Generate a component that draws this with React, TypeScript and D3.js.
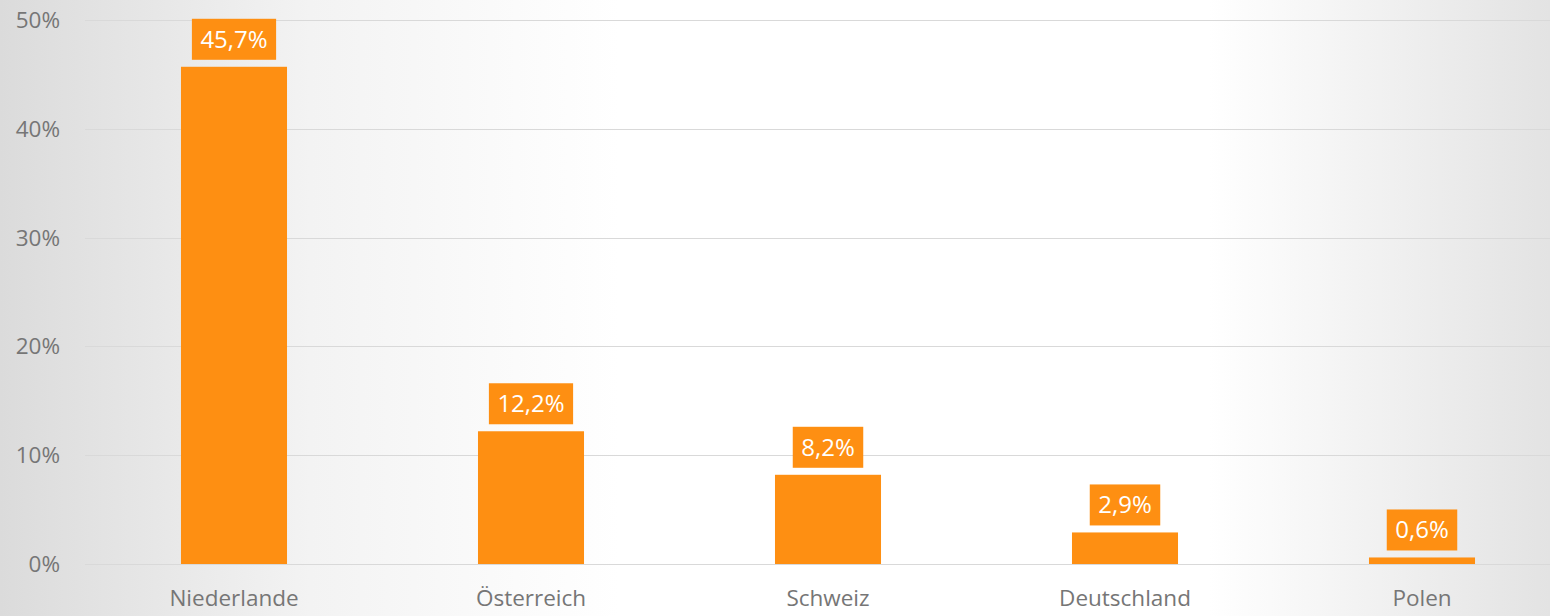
import React, { useEffect, useRef } from "react";
import * as d3 from "d3";

const categories = ["Niederlande", "Österreich", "Schweiz", "Deutschland", "Polen"];
const values = [45.7, 12.2, 8.2, 2.9, 0.6];
const yTicks = [0, 10, 20, 30, 40, 50];

const W = 1550;
const H = 616;

export default function App() {
  const ref = useRef<SVGSVGElement | null>(null);

  useEffect(() => {
    document.body.style.margin = "0";
    const svg = d3.select(ref.current);
    svg.selectAll("*").remove();

    const defs = svg.append("defs");
    const grad = defs
      .append("linearGradient")
      .attr("id", "bg")
      .attr("x1", "0%")
      .attr("x2", "100%")
      .attr("y1", "0%")
      .attr("y2", "0%");
    [
      [0, "#dbdbdb"],
      [0.2, "#f3f3f3"],
      [0.4, "#ffffff"],
      [0.78, "#ffffff"],
      [1, "#e3e3e3"],
    ].forEach(([o, c]) => grad.append("stop").attr("offset", o as number).attr("stop-color", c as string));

    svg.append("rect").attr("width", W).attr("height", H).attr("fill", "url(#bg)");

    const x = d3
      .scaleBand<string>()
      .domain(categories)
      .range([85.5, 1570.5])
      .paddingInner(0.643)
      .paddingOuter(0.3215);
    const y = d3.scaleLinear().domain([0, 50]).range([564, 20]);

    const font = "'Open Sans', 'Noto Sans', sans-serif";

    // gridlines
    svg
      .append("g")
      .selectAll("line")
      .data(yTicks)
      .join("line")
      .attr("x1", 85)
      .attr("x2", W)
      .attr("y1", (d) => Math.round(y(d)) + 0.5)
      .attr("y2", (d) => Math.round(y(d)) + 0.5)
      .attr("stroke", "#d9d9d9")
      .attr("stroke-width", 1);

    // y labels
    svg
      .append("g")
      .selectAll("text")
      .data(yTicks)
      .join("text")
      .attr("x", 60)
      .attr("y", (d) => y(d) + 8)
      .attr("text-anchor", "end")
      .attr("font-family", font)
      .attr("font-size", 22.5)
      .attr("fill", "#767676")
      .text((d) => `${d}%`);

    // bars
    svg
      .append("g")
      .selectAll("rect")
      .data(values)
      .join("rect")
      .attr("x", (_, i) => x(categories[i])!)
      .attr("width", x.bandwidth())
      .attr("y", (d) => y(d))
      .attr("height", (d) => y(0) - y(d))
      .attr("fill", "#fe8f12");

    // x labels
    svg
      .append("g")
      .selectAll("text")
      .data(categories)
      .join("text")
      .attr("x", (d) => x(d)! + x.bandwidth() / 2)
      .attr("y", 606)
      .attr("text-anchor", "middle")
      .attr("font-family", font)
      .attr("font-size", 22.5)
      .attr("fill", "#767676")
      .text((d) => d);

    // value labels
    const lg = svg.append("g");
    values.forEach((v, i) => {
      const cx = x(categories[i])! + x.bandwidth() / 2;
      const bottom = y(v) - 7;
      const g = lg.append("g");
      const rect = g.append("rect").attr("fill", "#fe8f12");
      const t = g
        .append("text")
        .attr("x", cx)
        .attr("y", bottom - 12)
        .attr("text-anchor", "middle")
        .attr("font-family", font)
        .attr("font-size", 24)
        .attr("fill", "#ffffff")
        .text(v.toFixed(1).replace(".", ",") + "%");
      const tw = (t.node() as SVGTextElement).getComputedTextLength();
      const bw = tw + 17;
      rect
        .attr("x", cx - bw / 2)
        .attr("width", bw)
        .attr("y", bottom - 41)
        .attr("height", 41);
    });
  }, []);

  return <svg ref={ref} width={W} height={H} style={{ display: "block" }} />;
}
